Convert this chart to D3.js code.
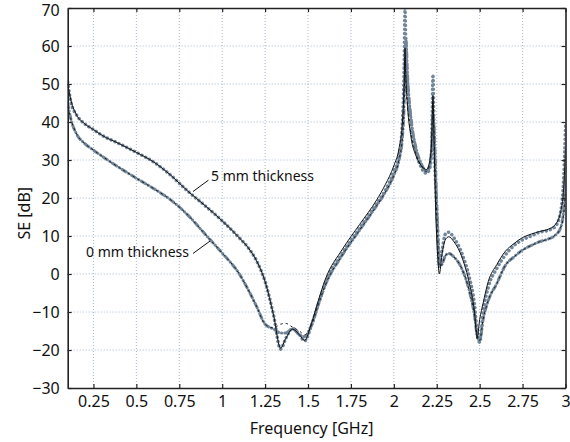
<!DOCTYPE html>
<html>
<head>
<meta charset="utf-8">
<script src="https://cdn.jsdelivr.net/npm/d3@7/dist/d3.min.js"></script>
<style>
  html, body { margin: 0; padding: 0; background: #fff; }
  svg text { font-family: "Noto Sans", "Open Sans", sans-serif; fill: #111; }
</style>
</head>
<body>
<svg id="chart" width="570" height="442"></svg>
<script>
// Frequency samples in GHz, shared by every series
const freq = [0.10, 0.12, 0.15, 0.20, 0.25, 0.30, 0.40, 0.50, 0.60, 0.70, 0.80, 0.90, 1.00,
  1.10, 1.15, 1.20, 1.25, 1.30, 1.34, 1.37, 1.41, 1.45, 1.48, 1.52, 1.56, 1.60, 1.70, 1.80,
  1.90, 1.95, 2.00, 2.03, 2.05, 2.06, 2.065, 2.07, 2.08, 2.10, 2.13, 2.16, 2.19, 2.21, 2.22,
  2.228, 2.235, 2.245, 2.255, 2.265, 2.28, 2.30, 2.32, 2.35, 2.40, 2.44, 2.47, 2.485, 2.50,
  2.52, 2.55, 2.60, 2.65, 2.70, 2.75, 2.80, 2.85, 2.90, 2.94, 2.97, 2.99, 3.00];

// Shielding effectiveness [dB], 5 mm thickness, solid curve
const se5Solid = [50, 45.5, 42, 39.5, 38, 36.5, 34.3, 32, 29.5, 26, 21.8, 18, 14,
  9.5, 7, 3.5, -2, -11, -19.5, -17, -14.5, -16, -17.5, -13, -7, -1.5, 6.5, 13,
  19.5, 23.5, 28.5, 33, 40, 50, 59.5, 52, 44, 36, 31, 28.5, 27.5, 30, 35,
  47, 33, 15, 5, 0, 5, 9, 9.8, 8.5, 4, -2.5, -10, -17, -12,
  -7.7, -2, 2.5, 6, 8, 9.6, 10.5, 11.2, 11.8, 13, 16, 23, 33];

// Shielding effectiveness [dB], 5 mm thickness, dotted curve
const se5Dotted = [50.5, 45, 42, 39.5, 38, 36.5, 34.3, 32, 29.5, 26, 21.8, 18, 14,
  9.5, 7, 3.5, -2, -11, -19.8, -17, -14.3, -16, -17.6, -13.5, -8, -2.5, 5.5, 12,
  18.5, 22, 27, 31, 40, 55, 70, 60, 50, 40, 32, 28, 26.5, 28, 33,
  52.5, 35, 22, 12, 3, 6, 10.5, 11, 9.5, 5, -1, -8, -15, -18,
  -10, -3.5, 1.5, 5, 7.5, 9, 10, 11, 11.5, 12.5, 16, 26, 39];

// Shielding effectiveness [dB], 0 mm thickness, dashed curve
const se0Dashed = [44, 40.5, 37, 34.3, 32.6, 31, 28, 25.2, 22.5, 19.5, 15.5, 10.5, 5.5,
  0, -4, -8.5, -13.2, -14.2, -13.2, -13, -14, -15, -16, -13.5, -8, -3, 5, 11.5,
  18, 21.5, 26, 30, 36, 45, 56, 50, 44, 37, 31.5, 28.5, 27, 29, 34,
  45, 35, 22, 10, 2, 2.5, 4.8, 5.4, 4.5, 1, -4.5, -11, -16, -17.5,
  -12, -7, -2.5, 2.3, 4.5, 6.3, 7.5, 8.5, 9.2, 10.2, 12, 16, 22];

// Shielding effectiveness [dB], 0 mm thickness, dash-dot curve
const se0DashDot = [45, 40.5, 37, 34.3, 32.6, 31, 28, 25.2, 22.5, 19.5, 15.5, 10.5, 5.5,
  0, -4, -8.5, -13.2, -14.5, -15.5, -15.5, -14.5, -16, -16.5, -13.5, -8, -3, 5, 11.5,
  18, 21.5, 26, 30, 36, 45, 55, 62, 52, 41, 33, 29, 27, 28.5, 33,
  42, 38, 25, 12, 2, 2.5, 4.8, 5.4, 4.5, 1, -4.5, -11, -16, -17.5,
  -12, -7, -2.5, 2.3, 4.5, 6.3, 7.5, 8.5, 9.2, 10.2, 12, 17, 25];

// Axis ticks
const xTicks = [0.25, 0.5, 0.75, 1, 1.25, 1.5, 1.75, 2, 2.25, 2.5, 2.75, 3];
const xTickLabels = ["0.25", "0.5", "0.75", "1", "1.25", "1.5", "1.75", "2", "2.25", "2.5", "2.75", "3"];
const yTicks = [-30, -20, -10, 0, 10, 20, 30, 40, 50, 60, 70];

// Curve annotations: text position and leader line end points (GHz, dB)
const annotations = [
  { text: "5 mm thickness", tx: 0.935, ty: 24.4, from: [0.83, 21.7], to: [0.92, 24.7] },
  { text: "0 mm thickness", tx: 0.207, ty: 4.6, from: [0.83, 5.4], to: [0.93, 8.7] }
];

const svg = d3.select("#chart");
const m = { left: 67.7, right: 4.5, top: 8, bottom: 54 };
const W = 570, H = 442;

const x = d3.scaleLinear().domain([0.1, 3]).range([m.left, W - m.right]);
const y = d3.scaleLinear().domain([-30, 70]).range([H - m.bottom, m.top]);

const plot = svg.append("g");

// dotted grid
const grid = plot.append("g")
  .attr("stroke", "#a3b8cd").attr("stroke-width", 1).attr("stroke-dasharray", "1,2");
grid.selectAll("line.gx").data(xTicks.filter(d => d < 3)).join("line")
  .attr("x1", d => x(d)).attr("x2", d => x(d))
  .attr("y1", y(-30)).attr("y2", y(70));
grid.selectAll("line.gy").data(yTicks.filter(d => d > -30 && d < 70)).join("line")
  .attr("x1", x(0.1)).attr("x2", x(3))
  .attr("y1", d => y(d)).attr("y2", d => y(d));

// clip to the plotting box
svg.append("clipPath").attr("id", "clip").append("rect")
  .attr("x", x(0.1)).attr("y", y(70)).attr("width", x(3) - x(0.1)).attr("height", y(-30) - y(70));

const line = vals => d3.line()
  .x((d, i) => x(freq[i]))
  .y(d => y(d))
  .curve(d3.curveMonotoneX)(vals);

const curves = plot.append("g").attr("clip-path", "url(#clip)").attr("fill", "none");

const grey = "#72869a";
curves.append("path").attr("d", line(se0DashDot))
  .attr("stroke", grey).attr("stroke-width", 3)
  .attr("stroke-dasharray", "5,3,0.3,3").attr("stroke-linecap", "round");
curves.append("path").attr("d", line(se5Dotted))
  .attr("stroke", grey).attr("stroke-width", 3.5)
  .attr("stroke-dasharray", "0.1,4.2").attr("stroke-linecap", "round");
curves.append("path").attr("d", line(se0Dashed))
  .attr("stroke", "#111").attr("stroke-width", 0.9)
  .attr("stroke-dasharray", "2.5,3");
curves.append("path").attr("d", line(se5Solid))
  .attr("stroke", "#111").attr("stroke-width", 1);

// axes with inward ticks on all four sides
const axisG = svg.append("g");
const tickLen = 4;
axisG.append("g").attr("transform", `translate(0,${y(-30)})`)
  .call(d3.axisBottom(x).tickValues(xTicks).tickSizeInner(-tickLen).tickSizeOuter(0)
    .tickPadding(8).tickFormat((d, i) => xTickLabels[i]));
axisG.append("g").attr("transform", `translate(0,${y(70)})`)
  .call(d3.axisTop(x).tickValues(xTicks).tickSizeInner(-tickLen).tickSizeOuter(0).tickFormat(""));
const yAxisG = axisG.append("g").attr("transform", `translate(${x(0.1)},0)`)
  .call(d3.axisLeft(y).tickValues(yTicks).tickSizeInner(-tickLen).tickSizeOuter(0).tickPadding(8));
axisG.append("g").attr("transform", `translate(${x(3)},0)`)
  .call(d3.axisRight(y).tickValues(yTicks).tickSizeInner(-tickLen).tickSizeOuter(0).tickFormat(""));
axisG.selectAll(".domain").attr("stroke", "#222").attr("stroke-width", 1.6);
axisG.selectAll(".tick line").attr("stroke", "#222").attr("stroke-width", 1.2);
axisG.selectAll(".tick text").attr("font-size", 16).attr("fill", "#111")
  .attr("font-family", "'Noto Sans', 'Open Sans', sans-serif");
// keep the topmost label inside the page
yAxisG.selectAll(".tick text").filter(d => d === 70).attr("dy", "0.45em");

// axis titles
svg.append("text").attr("x", (x(0.1) + x(3)) / 2 - 5).attr("y", 434)
  .attr("text-anchor", "middle").attr("font-size", 16).text("Frequency [GHz]");
svg.append("text").attr("transform", `translate(30,${y(16)}) rotate(-90)`)
  .attr("text-anchor", "middle").attr("font-size", 16).text("SE [dB]");

// annotations
const ann = svg.append("g");
ann.selectAll("line").data(annotations).join("line")
  .attr("x1", d => x(d.from[0])).attr("y1", d => y(d.from[1]))
  .attr("x2", d => x(d.to[0])).attr("y2", d => y(d.to[1]))
  .attr("stroke", "#111").attr("stroke-width", 1);
ann.selectAll("text").data(annotations).join("text")
  .attr("x", d => x(d.tx)).attr("y", d => y(d.ty))
  .attr("font-size", 14).text(d => d.text);
</script>
</body>
</html>
